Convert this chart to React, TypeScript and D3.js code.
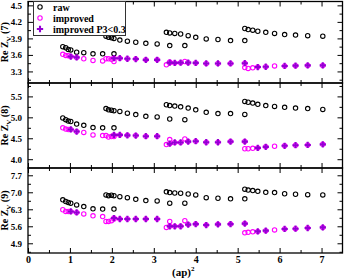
import React, { useRef, useEffect } from 'react';
import * as d3 from 'd3';

// (ap)^2 values of the four momentum sets
const xSet1 = [0.83, 0.9, 0.96, 1.02, 1.16, 1.33, 1.55, 1.78, 2.05];
const xSet2 = [1.86, 1.92, 1.99, 2.05, 2.19, 2.37, 2.57, 2.81, 3.08, 3.38, 3.74];
const xSet3 = [3.3, 3.38, 3.5, 3.64, 3.82, 4.0, 4.25, 4.53, 4.83, 5.17];
const xSet4 = [5.17, 5.25, 5.36, 5.48, 5.67, 5.88, 6.12, 6.38, 6.67, 7.03];
const apSq = [...xSet1, ...xSet2, ...xSet3, ...xSet4];

// 1 where the improved point also has P3 < 0.3
const p3Flag = [
  0, 0, 0, 1, 1, 0, 0, 0, 0,
  0, 0, 0, 1, 1, 1, 1, 1, 1, 0, 0,
  0, 1, 1, 1, 1, 1, 1, 1, 1, 1,
  0, 0, 0, 1, 1, 0, 1, 1, 1, 1,
];

const raw7 = [
  3.75, 3.73, 3.7, 3.69, 3.65, 3.64, 3.62, 3.62, 3.62,
  3.94, 3.92, 3.91, 3.9, 3.87, 3.85, 3.83, 3.81, 3.8, 3.77, 3.77,
  4.01, 4.0, 3.99, 3.98, 3.95, 3.92, 3.89, 3.88, 3.86, 3.86,
  4.08, 4.06, 4.05, 4.03, 4.01, 3.99, 3.97, 3.96, 3.95, 3.94,
];
const imp7 = [
  3.61, 3.59, 3.585, 3.57, 3.555, 3.53, 3.5, 3.49, 3.48,
  3.53, 3.53, 3.52, 3.54, 3.54, 3.53, 3.525, 3.51, 3.51, 3.47, 3.48,
  3.42, 3.46, 3.455, 3.46, 3.46, 3.455, 3.445, 3.445, 3.445, 3.45,
  3.37, 3.355, 3.365, 3.38, 3.385, 3.4, 3.4, 3.405, 3.41, 3.41,
];
const raw8 = [
  4.985, 4.945, 4.91, 4.9, 4.84, 4.81, 4.755, 4.75, 4.75,
  5.21, 5.18, 5.17, 5.16, 5.14, 5.1, 5.065, 5.025, 5.01, 4.96, 4.945,
  5.3, 5.28, 5.27, 5.25, 5.22, 5.18, 5.12, 5.09, 5.09, 5.07,
  5.38, 5.36, 5.34, 5.31, 5.28, 5.26, 5.24, 5.22, 5.21, 5.19,
];
const imp8 = [
  4.75, 4.72, 4.71, 4.71, 4.66, 4.64, 4.58, 4.565, 4.54,
  4.565, 4.53, 4.54, 4.58, 4.58, 4.57, 4.565, 4.55, 4.55, 4.47, 4.485,
  4.35, 4.37, 4.4, 4.4, 4.42, 4.43, 4.405, 4.405, 4.42, 4.42,
  4.25, 4.25, 4.26, 4.27, 4.295, 4.31, 4.32, 4.335, 4.34, 4.355,
];
const raw9 = [
  6.69, 6.62, 6.58, 6.55, 6.48, 6.41, 6.32, 6.31, 6.31,
  6.89, 6.86, 6.88, 6.86, 6.82, 6.78, 6.71, 6.66, 6.645, 6.55, 6.55,
  7.02, 6.99, 6.97, 6.96, 6.93, 6.89, 6.78, 6.755, 6.73, 6.73,
  7.13, 7.09, 7.07, 7.04, 7.0, 6.99, 6.94, 6.92, 6.9, 6.89,
];
const imp9 = [
  6.28, 6.21, 6.21, 6.21, 6.17, 6.11, 6.03, 6.0, 5.9,
  5.8, 5.8, 5.83, 5.94, 5.9, 5.9, 5.9, 5.9, 5.9, 5.8, 5.83,
  5.555, 5.6, 5.6, 5.6, 5.67, 5.69, 5.65, 5.68, 5.69, 5.71,
  5.33, 5.35, 5.37, 5.39, 5.42, 5.45, 5.49, 5.5, 5.53, 5.555,
];

const xTicks = [0, 1, 2, 3, 4, 5, 6, 7];
const xMinor = [0.5, 1.5, 2.5, 3.5, 4.5, 5.5, 6.5];
const yTicks7 = [3.3, 3.6, 3.9, 4.2, 4.5];
const yMinor7 = [3.15, 3.45, 3.75, 4.05, 4.35];
const yTicks8 = [4.0, 4.5, 5.0, 5.5];
const yMinor8 = [4.25, 4.75, 5.25, 5.75];
const yTicks9 = [4.9, 5.6, 6.3, 7.0, 7.7];
const yMinor9 = [4.55, 5.25, 5.95, 6.65, 7.35];

const legendNames = ['raw', 'improved', 'improved P3<0.3'];

const FONT = '"Liberation Serif", "Times New Roman", serif';
const PURPLE = '#9400d3';
const MAGENTA = '#ff00ff';

const App = () => {
  const svgRef = useRef<SVGSVGElement | null>(null);

  useEffect(() => {
    const width = 344;
    const height = 279;
    const left = 28;
    const right = 342.5;

    const svg = d3.select(svgRef.current)
      .attr('width', width)
      .attr('height', height);
    svg.selectAll('*').remove();

    const x = d3.scaleLinear().domain([0, 7.5]).range([left, right]);

    const panels = [
      { top: 1.5, bottom: 83, domain: [3.09, 4.57], ticks: yTicks7, minor: yMinor7, raw: raw7, imp: imp7, n: '7' },
      { top: 83, bottom: 168, domain: [3.79, 5.82], ticks: yTicks8, minor: yMinor8, raw: raw8, imp: imp8, n: '8' },
      { top: 168, bottom: 253, domain: [4.5, 8.0], ticks: yTicks9, minor: yMinor9, raw: raw9, imp: imp9, n: '9' },
    ];

    const styleAxis = (g, size = 9) => {
      g.select('.domain').remove();
      g.selectAll('line').attr('stroke', '#000').attr('stroke-width', 1);
      g.selectAll('text')
        .attr('font-family', FONT)
        .attr('font-weight', 'bold')
        .attr('font-size', size)
        .attr('fill', '#000');
    };

    const cross = d3.symbol().type(d3.symbolCross).size(22);

    panels.forEach((p, pi) => {
      const y = d3.scaleLinear().domain(p.domain).range([p.bottom, p.top]);
      const g = svg.append('g');

      // ticks: left / right (inward)
      g.append('g').attr('transform', `translate(${left},0)`)
        .call(d3.axisLeft(y).tickValues(p.ticks).tickSizeInner(-5).tickSizeOuter(0).tickPadding(6).tickFormat(d3.format('.1f')))
        .call(styleAxis);
      g.append('g').attr('transform', `translate(${left},0)`)
        .call(d3.axisLeft(y).tickValues(p.minor).tickSizeInner(-3).tickSizeOuter(0).tickFormat(() => ''))
        .call(styleAxis);
      g.append('g').attr('transform', `translate(${right},0)`)
        .call(d3.axisRight(y).tickValues(p.ticks).tickSizeInner(-5).tickSizeOuter(0).tickFormat(() => ''))
        .call(styleAxis);
      g.append('g').attr('transform', `translate(${right},0)`)
        .call(d3.axisRight(y).tickValues(p.minor).tickSizeInner(-3).tickSizeOuter(0).tickFormat(() => ''))
        .call(styleAxis);

      // ticks: top / bottom (inward)
      const isLast = pi === panels.length - 1;
      g.append('g').attr('transform', `translate(0,${p.bottom})`)
        .call(d3.axisBottom(x).tickValues(xTicks).tickSizeInner(-5).tickSizeOuter(0).tickPadding(3)
          .tickFormat(isLast ? d3.format('d') : () => ''))
        .call(styleAxis, 10);
      g.append('g').attr('transform', `translate(0,${p.bottom})`)
        .call(d3.axisBottom(x).tickValues(xMinor).tickSizeInner(-3).tickSizeOuter(0).tickFormat(() => ''))
        .call(styleAxis);
      g.append('g').attr('transform', `translate(0,${p.top})`)
        .call(d3.axisTop(x).tickValues(xTicks).tickSizeInner(-5).tickSizeOuter(0).tickFormat(() => ''))
        .call(styleAxis);
      g.append('g').attr('transform', `translate(0,${p.top})`)
        .call(d3.axisTop(x).tickValues(xMinor).tickSizeInner(-3).tickSizeOuter(0).tickFormat(() => ''))
        .call(styleAxis);

      // frame
      g.append('rect')
        .attr('x', left).attr('y', p.top)
        .attr('width', right - left).attr('height', p.bottom - p.top)
        .attr('fill', 'none').attr('stroke', '#000').attr('stroke-width', 1.3);

      // y title
      const yt = g.append('text')
        .attr('transform', `translate(8,${(p.top + p.bottom) / 2}) rotate(-90)`)
        .attr('text-anchor', 'middle')
        .attr('font-family', FONT).attr('font-weight', 'bold').attr('font-size', 10);
      yt.append('tspan').text('Re Z');
      yt.append('tspan').attr('font-size', 7).attr('dy', 2.5).text('V');
      yt.append('tspan').attr('dy', -2.5).text(` (${p.n})`);

      // marks
      g.append('g').selectAll('circle').data(p.raw).join('circle')
        .attr('cx', (d, i) => x(apSq[i])).attr('cy', d => y(d)).attr('r', 2.2)
        .attr('fill', 'none').attr('stroke', '#000').attr('stroke-width', 1.1);
      g.append('g').selectAll('circle').data(p.imp).join('circle')
        .attr('cx', (d, i) => x(apSq[i])).attr('cy', d => y(d)).attr('r', 2.2)
        .attr('fill', 'none').attr('stroke', MAGENTA).attr('stroke-width', 1.1);
      g.append('g').selectAll('path')
        .data(p.imp.map((v, i) => ({ v, i })).filter(d => p3Flag[d.i]))
        .join('path')
        .attr('d', cross)
        .attr('transform', d => `translate(${x(apSq[d.i])},${y(d.v)})`)
        .attr('fill', PURPLE);
    });

    // x title
    const xt = svg.append('text')
      .attr('x', (left + right) / 2 - 2).attr('y', 276)
      .attr('text-anchor', 'middle')
      .attr('font-family', FONT).attr('font-weight', 'bold').attr('font-size', 11);
    xt.append('tspan').text('(ap)');
    xt.append('tspan').attr('font-size', 7).attr('dy', -5).text('2');

    // legend
    const lg = svg.append('g');
    lg.append('rect')
      .attr('x', 33.5).attr('y', 1.5).attr('width', 92).attr('height', 34)
      .attr('fill', '#fff').attr('stroke', '#333').attr('stroke-width', 1);
    legendNames.forEach((name, i) => {
      const cy = 7 + i * 11;
      if (i === 2) {
        lg.append('path').attr('d', cross).attr('transform', `translate(40,${cy})`).attr('fill', PURPLE);
      } else {
        lg.append('circle').attr('cx', 40).attr('cy', cy).attr('r', 2.2)
          .attr('fill', 'none').attr('stroke', i === 0 ? '#000' : MAGENTA).attr('stroke-width', 1.1);
      }
      lg.append('text')
        .attr('x', 53).attr('y', cy + 3.5)
        .attr('font-family', FONT).attr('font-weight', 'bold').attr('font-size', 10)
        .text(name);
    });
  }, []);

  return (
    <svg ref={svgRef} style={{ position: 'absolute', left: 0, top: 0, display: 'block' }}></svg>
  );
};

export default App;
